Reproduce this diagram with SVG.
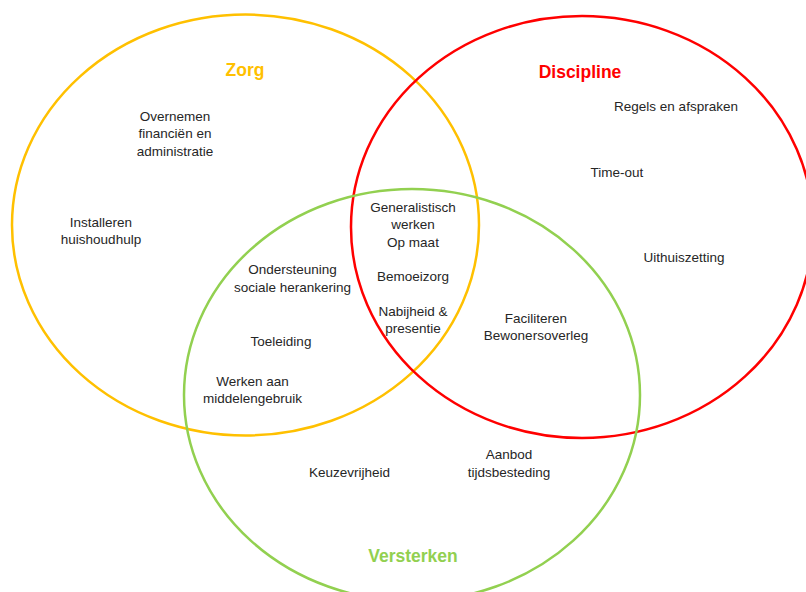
<svg xmlns="http://www.w3.org/2000/svg" width="806" height="592" viewBox="0 0 806 592">
<style>
  .set { fill: none; stroke-width: 2.5; }
  .title { font-family: "Liberation Sans", Arial, sans-serif; font-size: 17.5px; font-weight: bold; text-anchor: middle; }
  .lbl { font-family: "Liberation Sans", Arial, sans-serif; font-size: 13.5px; fill: #262626; text-anchor: middle; }
</style>
<rect width="806" height="592" fill="#ffffff"/>
<g id="zorg">
  <ellipse class="set" cx="245.5" cy="225" rx="233.5" ry="210.5" stroke="#FFC000"/>
  <text class="title" x="245" y="76" fill="#FFC000">Zorg</text>
</g>
<g id="discipline">
  <ellipse class="set" cx="582" cy="227" rx="231" ry="211" stroke="#FF0000"/>
  <text class="title" x="580" y="77.5" fill="#FF0000">Discipline</text>
</g>
<g id="versterken">
  <ellipse class="set" cx="412" cy="395" rx="228" ry="206" stroke="#92D050"/>
  <text class="title" x="413" y="562" fill="#92D050">Versterken</text>
</g>
<g id="overnemen">
  <text class="lbl" x="175" y="121">Overnemen</text>
  <text class="lbl" x="175" y="138">financiën en</text>
  <text class="lbl" x="175" y="155.5">administratie</text>
</g>
<g id="installeren">
  <text class="lbl" x="101" y="227">Installeren</text>
  <text class="lbl" x="101" y="244">huishoudhulp</text>
</g>
<g id="regels">
  <text class="lbl" x="676" y="110.5">Regels en afspraken</text>
</g>
<g id="timeout">
  <text class="lbl" x="617" y="176.5">Time-out</text>
</g>
<g id="uithuiszetting">
  <text class="lbl" x="684" y="262">Uithuiszetting</text>
</g>
<g id="generalistisch">
  <text class="lbl" x="413" y="212">Generalistisch</text>
  <text class="lbl" x="413" y="229">werken</text>
  <text class="lbl" x="413" y="246.5">Op maat</text>
</g>
<g id="bemoeizorg">
  <text class="lbl" x="413" y="281">Bemoeizorg</text>
</g>
<g id="nabijheid">
  <text class="lbl" x="413" y="316">Nabijheid &amp;</text>
  <text class="lbl" x="413" y="333">presentie</text>
</g>
<g id="ondersteuning">
  <text class="lbl" x="292.5" y="274">Ondersteuning</text>
  <text class="lbl" x="292.5" y="291.5">sociale herankering</text>
</g>
<g id="faciliteren">
  <text class="lbl" x="536" y="322.5">Faciliteren</text>
  <text class="lbl" x="536" y="339.5">Bewonersoverleg</text>
</g>
<g id="toeleiding">
  <text class="lbl" x="281" y="346">Toeleiding</text>
</g>
<g id="werken">
  <text class="lbl" x="252.5" y="386">Werken aan</text>
  <text class="lbl" x="252.5" y="403">middelengebruik</text>
</g>
<g id="keuzevrijheid">
  <text class="lbl" x="349.5" y="477">Keuzevrijheid</text>
</g>
<g id="aanbod">
  <text class="lbl" x="509" y="459">Aanbod</text>
  <text class="lbl" x="509" y="476.5">tijdsbesteding</text>
</g>
</svg>
